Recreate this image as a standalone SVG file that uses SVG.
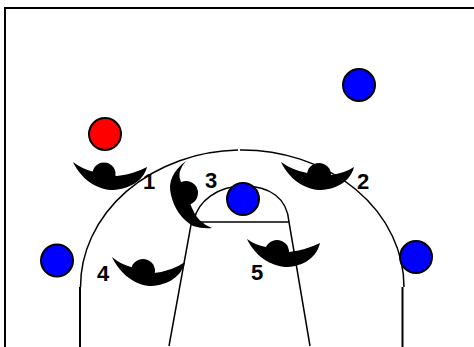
<svg xmlns="http://www.w3.org/2000/svg" width="474" height="347" viewBox="0 0 474 347">
<style>
.l{fill:none;stroke:#000;stroke-width:1.500}
.t{fill:none;stroke:#000;stroke-width:2}
.d{fill:#00f;stroke:#000;stroke-width:2}
.r{fill:#f00;stroke:#000;stroke-width:2}
.p{fill:#000}
text{font-family:"Liberation Sans",Arial,sans-serif;font-size:22px;font-weight:bold;fill:#000}
</style>
<rect width="474" height="347" fill="#fff"/>
<g id="connectors">
<path class="t" d="M5 347V8H474"/>
<path class="l" d="M80.500 287A161.500 137 0 0 1 238 150.100M240 150A162 137 0 0 1 404 287"/>
<path class="t" d="M80 287V347M402.500 287V347"/>
<path class="l" d="M192 222H289M191.500 222L169 346M289 222L310 346M194 220C198 201 218 186 243 186C270 186 287 198 289 222"/>
</g>
<g id="ball1"><circle class="d" cx="359" cy="85" r="16"/></g>
<g id="ball2"><circle class="r" cx="105" cy="134" r="16"/></g>
<g id="ball3"><circle class="d" cx="57" cy="260.500" r="16"/></g>
<g id="ball4"><circle class="d" cx="416" cy="257" r="16"/></g>
<g id="ball5"><circle class="d" cx="243" cy="199" r="16"/></g>
<g id="p1"><path class="p" d="M73 162Q82 169 94 172L117 176Q134 174 147 167C143 183 126 190 110 190C92 188 79 175 73 162Z"/><circle class="p" cx="104" cy="174" r="11.500"/><text x="143" y="189">1</text></g>
<g id="p2"><path class="p" d="M281 162Q292 170 307 173L331 175Q345 173 354 167C350 183 334 190 318 190C300 188 287 175 281 162Z"/><circle class="p" cx="319" cy="175" r="12"/><text x="357" y="189">2</text></g>
<g id="p3"><path class="p" d="M186 161Q176 172 181 182L192 208Q197 222 212 228Q203 229 193 226Q176 216 171 195Q166 176 186 161Z"/><circle class="p" cx="186" cy="193" r="12"/><text x="205" y="188">3</text></g>
<g id="p4"><path class="p" d="M112 257Q120 264 131 267L154 273Q172 271 185 262C181 279 164 286 149 286C131 284 118 270 112 257Z"/><circle class="p" cx="143" cy="271" r="12"/><text x="97" y="281">4</text></g>
<g id="p5"><path class="p" d="M247 239Q255 245 266 247L289 252Q306 250 320 243C316 260 300 267 285 267C266 265 253 252 247 239Z"/><circle class="p" cx="277" cy="252" r="12"/><text x="251" y="280">5</text></g>
</svg>
